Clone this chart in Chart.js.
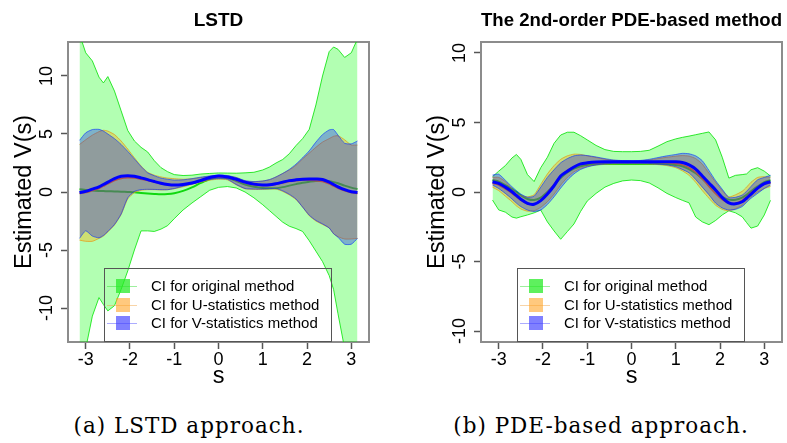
<!DOCTYPE html>
<html lang="en">
<head>
<meta charset="UTF-8">
<title>LSTD vs PDE-based CI</title>
<script src="https://cdn.jsdelivr.net/npm/chart.js"></script>
<style>
  body { margin: 0; background: #fff; width: 787px; height: 443px; overflow: hidden; position: relative;
         font-family: 'Liberation Sans', Arial, sans-serif; }
  canvas { position: absolute; top: 0; }
  #lstdChart { left: 0; }
  #pdeChart { left: 393px; }
  .legend { position: absolute; top: 268px; width: 228px; height: 74px; border: 1px solid #555; box-sizing: border-box; }
  .legend .line { position: absolute; left: 2px; width: 30px; height: 1px; }
  .legend .swatch { position: absolute; left: 11px; width: 14px; height: 14px; }
  .legend .label { position: absolute; left: 46px; font-size: 15px; line-height: 18px; white-space: nowrap; color: #000; }
  .caption { position: absolute; top: 413px; font-family: 'DejaVu Serif', serif; font-size: 21.5px; line-height: 26px;
             letter-spacing: 1px; white-space: nowrap; transform: translateX(-50%); color: #000; }
</style>
</head>
<body>
<canvas id="lstdChart" width="393" height="395"></canvas>
<canvas id="pdeChart" width="394" height="395"></canvas>
<div class="legend" id="lstdLegend" style="left:104px"></div>
<div class="legend" id="pdeLegend" style="left:517px"></div>
<div class="caption" style="left:189px">(a) LSTD approach.</div>
<div class="caption" style="left:601px">(b) PDE-based approach.</div>

<script>
// state grid s
const S = [-3.14, -3.0, -2.85, -2.7, -2.6, -2.5, -2.35, -2.2, -2.05,
           -1.9, -1.75, -1.6, -1.45, -1.3, -1.15, -1.0, -0.8, -0.6, -0.4, -0.2,
           0, 0.2, 0.4, 0.6, 0.8, 1.0, 1.15, 1.3, 1.45, 1.6, 1.75, 1.9,
           2.05, 2.2, 2.35, 2.5, 2.6, 2.7, 2.85, 3.0, 3.14];

const xTicks = [-3, -2, -1, 0, 1, 2, 3];
const yTicks = [-10, -5, 0, 5, 10];
const legendLabels = ['CI for original method', 'CI for U-statistics method', 'CI for V-statistics method'];

// LSTD panel
const lstdOrigUpper = [13.6, 12.0, 11.3, 9.9, 9.4, 9.95, 8.7, 7.0, 5.3,
  4.4, 3.85, 3.45, 2.7, 2.1, 1.75, 1.5, 1.42, 1.45, 1.55, 1.6,
  1.64, 1.63, 1.62, 1.65, 1.7, 1.9, 2.15, 2.5, 2.8, 3.3, 4.0, 4.6,
  5.4, 7.5, 10.0, 12.1, 12.5, 12.3, 11.6, 12.0, 13.2];
const lstdOrigLower = [-16, -13.5, -10.7, -9.1, -9.7, -10.25, -9.8, -8.4, -6.8,
  -5.0, -3.35, -3.35, -3.4, -3.2, -2.9, -2.3, -1.55, -0.95, -0.4, 0.15,
  0.4, 0.47, 0.35, 0.0, -0.5, -1.1, -1.6, -2.1, -2.6, -2.95, -3.15, -3.4,
  -4.2, -5.1, -6.0, -7.2, -8.4, -10.5, -13.5, -15, -16];
const lstdOrigEst = [0.23, 0.18, 0.12, 0.09, 0.08, 0.07, 0.05, 0.03, 0.0,
  -0.03, -0.08, -0.13, -0.17, -0.2, -0.18, -0.1, 0.1, 0.4, 0.78, 1.1,
  1.25, 1.2, 0.95, 0.65, 0.45, 0.35, 0.32, 0.33, 0.42, 0.55, 0.68, 0.8,
  0.88, 0.95, 0.97, 0.92, 0.85, 0.75, 0.55, 0.38, 0.25];
const lstdUUpper = [4.1, 4.5, 4.9, 5.2, 5.32, 5.25, 4.95, 4.4, 3.7,
  2.95, 2.25, 1.7, 1.45, 1.3, 1.2, 1.15, 1.1, 1.15, 1.25, 1.35,
  1.4, 1.38, 1.25, 0.95, 0.88, 0.95, 1.05, 1.3, 1.6, 1.9, 2.3, 2.85,
  3.35, 3.85, 4.3, 4.6, 4.8, 4.85, 4.5, 4.05, 4.05];
const lstdULower = [-4.15, -4.25, -4.25, -4.0, -3.8, -3.45, -2.85, -1.95, -0.6,
  -0.05, 0.15, 0.2, 0.2, 0.18, 0.2, 0.28, 0.45, 0.65, 0.85, 1.02,
  1.1, 1.05, 0.62, 0.28, 0.22, 0.22, 0.25, 0.25, 0.05, -0.25, -0.65, -1.3,
  -2.05, -2.5, -2.8, -3.1, -3.6, -3.85, -4.05, -4.05, -4.0];
const lstdUEst = [-0.12, -0.05, 0.12, 0.3, 0.5, 0.7, 0.98, 1.17, 1.22,
  1.2, 1.1, 0.98, 0.85, 0.72, 0.62, 0.58, 0.62, 0.75, 0.95, 1.18,
  1.3, 1.22, 1.02, 0.8, 0.63, 0.56, 0.57, 0.65, 0.78, 0.9, 0.98, 1.02,
  1.02, 0.98, 0.9, 0.7, 0.5, 0.32, 0.1, -0.05, -0.12];
const lstdVUpper = [4.45, 5.1, 5.38, 5.4, 5.25, 5.0, 4.6, 4.1, 3.5,
  2.85, 2.2, 1.65, 1.4, 1.2, 1.1, 1.03, 1.05, 1.15, 1.28, 1.38,
  1.45, 1.42, 1.25, 0.98, 0.9, 0.95, 1.07, 1.3, 1.6, 1.95, 2.4, 2.95,
  3.55, 4.3, 4.95, 5.35, 5.38, 4.9, 4.2, 4.15, 4.4];
const lstdVLower = [-4.0, -3.35, -3.8, -3.95, -3.75, -3.4, -2.8, -1.9, -0.5,
  0.05, 0.2, 0.23, 0.22, 0.2, 0.2, 0.3, 0.5, 0.7, 0.9, 1.08,
  1.15, 1.1, 0.65, 0.3, 0.25, 0.25, 0.28, 0.3, 0.1, -0.2, -0.6, -1.3,
  -2.0, -2.45, -2.75, -3.1, -3.6, -3.9, -4.5, -4.5, -4.0];
const lstdVEst = [-0.05, 0.05, 0.25, 0.45, 0.65, 0.85, 1.15, 1.35, 1.4,
  1.35, 1.22, 1.07, 0.9, 0.75, 0.65, 0.6, 0.65, 0.78, 1.0, 1.25,
  1.38, 1.3, 1.1, 0.85, 0.68, 0.6, 0.62, 0.72, 0.85, 0.98, 1.05, 1.1,
  1.12, 1.12, 1.08, 0.85, 0.65, 0.45, 0.2, 0.02, -0.05];

// PDE panel
const pdeOrigUpper = [1.1, 1.5, 1.9, 2.45, 2.7, 2.35, 1.25, 0.75, 1.75,
  2.5, 3.5, 4.1, 4.3, 4.3, 4.05, 3.75, 3.35, 3.05, 2.92, 2.9,
  2.9, 2.92, 3.0, 3.3, 3.62, 3.82, 3.93, 4.02, 4.12, 4.22, 4.32, 3.75,
  2.5, 1.0, 1.2, 1.25, 1.3, 1.6, 1.75, 1.5, 1.15];
const pdeOrigLower = [-0.58, -1.29, -1.45, -1.8, -1.88, -1.78, -1.65, -1.5, -1.3,
  -2.15, -2.8, -3.4, -2.85, -2.3, -1.4, -0.65, -0.1, 0.35, 0.62, 0.8,
  0.86, 0.82, 0.65, 0.3, -0.1, -0.4, -0.6, -0.78, -1.8, -2.15, -2.35, -2.05,
  -1.65, -1.35, -1.5, -1.78, -2.2, -2.6, -2.45, -1.65, -0.6];
const pdeOrigEst = [0.86, 0.75, 0.5, 0.2, 0.0, -0.25, -0.5, -0.58, -0.4,
  0.0, 0.5, 1.0, 1.4, 1.68, 1.85, 1.95, 2.0, 2.01, 2.01, 2.01,
  2.01, 2.01, 2.01, 2.01, 2.0, 1.95, 1.85, 1.65, 1.35, 0.95, 0.5, 0.05,
  -0.35, -0.55, -0.55, -0.4, -0.2, 0.05, 0.4, 0.7, 0.85];
const pdeUUpper = [1.05, 1.05, 0.75, 0.25, -0.05, -0.25, -0.35, -0.2, 0.55,
  1.3, 1.9, 2.35, 2.6, 2.72, 2.7, 2.6, 2.48, 2.36, 2.28, 2.24,
  2.23, 2.24, 2.3, 2.4, 2.5, 2.58, 2.62, 2.58, 2.4, 2.0, 1.35, 0.7,
  0.1, -0.35, -0.2, 0.05, 0.35, 0.7, 1.05, 1.1, 1.05];
const pdeULower = [0.35, 0.1, -0.3, -0.7, -1.0, -1.22, -1.38, -1.35, -1.1,
  -0.7, -0.15, 0.5, 1.05, 1.45, 1.7, 1.85, 1.95, 2.0, 2.02, 2.03,
  2.03, 2.03, 2.01, 1.97, 1.9, 1.75, 1.52, 1.2, 0.7, 0.1, -0.45, -0.95,
  -1.25, -1.35, -1.2, -0.95, -0.65, -0.35, 0.0, 0.25, 0.4];
const pdeUEst = [0.62, 0.5, 0.22, -0.1, -0.35, -0.6, -0.85, -0.88, -0.55,
  -0.05, 0.55, 1.15, 1.55, 1.82, 1.97, 2.05, 2.1, 2.12, 2.12, 2.12,
  2.12, 2.12, 2.12, 2.12, 2.1, 2.05, 1.95, 1.75, 1.42, 0.95, 0.4, -0.12,
  -0.55, -0.8, -0.8, -0.6, -0.35, -0.05, 0.3, 0.55, 0.65];
const pdeVUpper = [1.22, 1.28, 0.85, 0.38, 0.1, -0.15, -0.38, -0.3, 0.35,
  1.05, 1.6, 2.1, 2.4, 2.6, 2.66, 2.62, 2.52, 2.4, 2.3, 2.26,
  2.25, 2.27, 2.35, 2.48, 2.6, 2.7, 2.78, 2.75, 2.6, 2.25, 1.55, 0.82,
  0.2, -0.4, -0.38, -0.22, 0.05, 0.4, 0.88, 1.05, 1.2];
const pdeVLower = [0.5, 0.25, -0.1, -0.5, -0.8, -1.05, -1.3, -1.4, -1.3,
  -0.9, -0.35, 0.28, 0.85, 1.3, 1.62, 1.8, 1.95, 2.02, 2.06, 2.06,
  2.06, 2.06, 2.04, 2.0, 1.95, 1.82, 1.62, 1.38, 0.9, 0.35, -0.2, -0.8,
  -1.15, -1.3, -1.25, -1.05, -0.75, -0.45, -0.1, 0.25, 0.5];
const pdeVEst = [0.74, 0.62, 0.35, 0.02, -0.25, -0.52, -0.82, -0.88, -0.62,
  -0.15, 0.45, 1.15, 1.5, 1.8, 2.02, 2.1, 2.16, 2.18, 2.18, 2.18,
  2.18, 2.18, 2.18, 2.18, 2.18, 2.18, 2.12, 1.95, 1.65, 1.15, 0.65, 0.15,
  -0.4, -0.78, -0.85, -0.7, -0.45, -0.15, 0.28, 0.6, 0.74];

const FONT = "'Liberation Sans', Arial, sans-serif";
const boxColor = '#8c8c8c';
const tickFont = { family: FONT, size: 18 };
const labelFont = { family: FONT, size: 23.5 };

Chart.defaults.font.family = FONT;
Chart.defaults.color = '#000';

function pts(ys) {
    return S.map(function (x, i) { return { x: x, y: ys[i] }; });
}

function line(ys, color, width, order) {
    return { data: pts(ys), borderColor: color, borderWidth: width, fill: false,
             pointRadius: 0, tension: 0.3, order: order, clip: 0 };
}

function band(upper, lower, fillColor, edgeColor, tension, order) {
    return [
        { data: pts(upper), borderColor: edgeColor, borderWidth: 1, backgroundColor: fillColor,
          fill: '+1', pointRadius: 0, tension: tension, order: order, clip: 0 },
        { data: pts(lower), borderColor: edgeColor, borderWidth: 1, fill: false,
          pointRadius: 0, tension: tension, order: order, clip: 0 }
    ];
}

function makeChart(id, title, yMax, padLeft, padRight, d) {
    // V band + line on top, then U, then original at the bottom
    var datasets = [].concat(
        band(d.vUpper, d.vLower, 'rgba(0,0,255,0.3)', 'rgba(0,50,255,0.6)', 0.2, 1),
        [line(d.vEst, '#0000ff', 3, 0)],
        band(d.uUpper, d.uLower, 'rgba(255,165,0,0.36)', 'rgba(225,150,20,0.7)', 0.2, 3),
        [line(d.uEst, 'rgb(255,120,0)', 1.5, 2)],
        band(d.oUpper, d.oLower, 'rgba(0,255,0,0.3)', 'rgba(0,225,0,0.8)', 0, 5),
        [line(d.oEst, '#10d810', 2, 4)]
    );

    var axisGrid = { drawOnChartArea: false, drawTicks: true, tickLength: 7, tickColor: '#555', tickWidth: 1.5 };
    var border = { display: true, color: boxColor, width: 2 };

    return new Chart(document.getElementById(id), {
        type: 'line',
        data: { datasets: datasets },
        options: {
            responsive: false,
            animation: false,
            devicePixelRatio: 1,
            layout: { padding: { left: padLeft, right: padRight, top: 0, bottom: 0 } },
            plugins: {
                legend: { display: false },
                tooltip: { enabled: false },
                title: { display: true, text: title, fullSize: false, color: '#000',
                         font: { family: FONT, size: 19, weight: 'bold' },
                         padding: { top: 9, bottom: 10.2 } }
            },
            scales: {
                x: {
                    type: 'linear', position: 'bottom', min: -3.4, max: 3.4,
                    afterBuildTicks: function (axis) { axis.ticks = xTicks.map(function (v) { return { value: v }; }); },
                    afterFit: function (axis) { axis.height = 53; },
                    grid: axisGrid, border: border,
                    ticks: { font: tickFont, color: '#000', padding: 0, maxRotation: 0, autoSkip: false },
                    title: { display: true, text: 's', color: '#000', font: labelFont, padding: { top: 0, bottom: 4 } }
                },
                y: {
                    type: 'linear', position: 'left', min: -yMax, max: yMax,
                    afterBuildTicks: function (axis) { axis.ticks = yTicks.map(function (v) { return { value: v }; }); },
                    afterFit: function (axis) { axis.width = 68; },
                    grid: axisGrid, border: border,
                    ticks: { font: tickFont, color: '#000', padding: 1, minRotation: 90, maxRotation: 90,
                             crossAlign: 'center', autoSkip: false },
                    title: { display: true, text: 'Estimated V(s)', color: '#000', font: labelFont,
                             padding: { top: 10, bottom: 0 } }
                },
                x2: {
                    type: 'linear', position: 'top', min: -3.4, max: 3.4,
                    grid: { display: false }, ticks: { display: false }, border: border,
                    afterFit: function (axis) { axis.height = 0; }
                },
                y2: {
                    type: 'linear', position: 'right', min: -yMax, max: yMax,
                    grid: { display: false }, ticks: { display: false }, border: border,
                    afterFit: function (axis) { axis.width = 0; }
                }
            }
        }
    });
}

function makeLegend(id) {
    var colors = [
        { sw: 'rgba(40,235,40,0.75)', ln: 'rgba(40,220,40,0.45)' },
        { sw: 'rgba(255,165,40,0.6)', ln: 'rgba(240,160,60,0.45)' },
        { sw: 'rgba(60,60,255,0.65)', ln: 'rgba(70,70,255,0.45)' }
    ];
    var centers = [17, 35.5, 54];
    var box = document.getElementById(id);
    legendLabels.forEach(function (text, i) {
        var c = centers[i];
        box.insertAdjacentHTML('beforeend',
            '<div class="line" style="top:' + c + 'px;background:' + colors[i].ln + '"></div>' +
            '<div class="swatch" style="top:' + (c - 7) + 'px;background:' + colors[i].sw + '"></div>' +
            '<div class="label" style="top:' + (c - 9) + 'px">' + text + '</div>');
    });
}

makeChart('lstdChart', 'LSTD', 12.93, 0, 24, {
    oUpper: lstdOrigUpper, oLower: lstdOrigLower, oEst: lstdOrigEst,
    uUpper: lstdUUpper, uLower: lstdULower, uEst: lstdUEst,
    vUpper: lstdVUpper, vLower: lstdVLower, vEst: lstdVEst
});
makeChart('pdeChart', 'The 2nd-order PDE-based method', 10.79, 20, 5, {
    oUpper: pdeOrigUpper, oLower: pdeOrigLower, oEst: pdeOrigEst,
    uUpper: pdeUUpper, uLower: pdeULower, uEst: pdeUEst,
    vUpper: pdeVUpper, vLower: pdeVLower, vEst: pdeVEst
});
makeLegend('lstdLegend');
makeLegend('pdeLegend');
</script>
</body>
</html>
